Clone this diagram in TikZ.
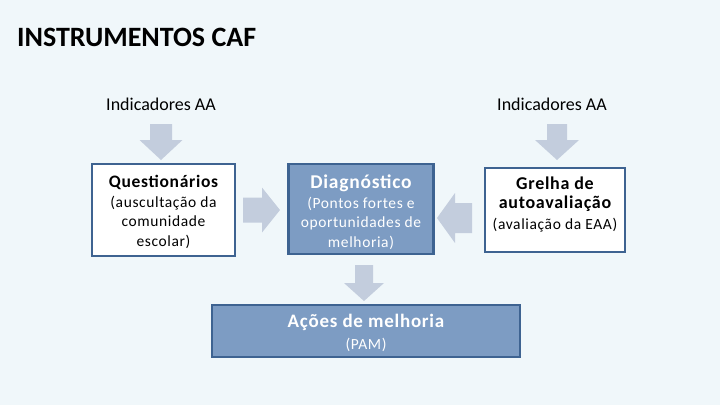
\documentclass[tikz,border=0pt]{standalone}
\usepackage{fontspec}
\setmainfont{Carlito}
\definecolor{bgc}{HTML}{F0F7FA}
\definecolor{arrc}{HTML}{C3CDDD}
\definecolor{boxfill}{HTML}{7D9CC3}
\definecolor{boxline}{HTML}{3E6391}
\newcommand{\sub}{\fontsize{15.5}{19.5}\selectfont\addfontfeatures{LetterSpace=4}}
% down arrow: cx, top, head start, tip, shaft half, head half
\newcommand{\darrow}[6]{\fill[arrc] (#1-#5,#2) -- (#1+#5,#2) -- (#1+#5,#3) -- (#1+#6,#3) -- (#1,#4) -- (#1-#6,#3) -- (#1-#5,#3) -- cycle;}
% horizontal arrow: cy, tail x, head start x, tip x, shaft half, head half
\newcommand{\harrow}[6]{\fill[arrc] (#2,#1-#5) -- (#3,#1-#5) -- (#3,#1-#6) -- (#4,#1) -- (#3,#1+#6) -- (#3,#1+#5) -- (#2,#1+#5) -- cycle;}
\begin{document}
\begin{tikzpicture}[x=1pt,y=-1pt,
  whitebox/.style={draw=boxline,line width=2.5pt,fill=white,inner sep=0pt},
  bluebox/.style={draw=boxline,line width=2.5pt,fill=boxfill,inner sep=0pt},
  txt/.style={align=center,inner sep=0pt},
  lbl/.style={font=\fontsize{18}{21}\selectfont,inner sep=0pt}
]
\useasboundingbox (0,0) rectangle (720,405);
\fill[bgc] (0,0) rectangle (720,405);
\node[anchor=west,font=\fontsize{28}{32}\selectfont\bfseries,inner sep=0pt] (title) at (17,37) {INSTRUMENTOS CAF};
\node[lbl] (ind1) at (161,104) {Indicadores AA};
\node[lbl] (ind2) at (552,104) {Indicadores AA};

\node[whitebox,minimum width=143pt,minimum height=92pt] (q) at (163.5,210) {};
\node[txt,font=\sub] (qt) at (163.5,212)
  {{\fontsize{17.5}{19.5}\selectfont\bfseries Questionários}\\(auscultação da\\comunidade\\escolar)};

\node[bluebox,minimum width=145pt,minimum height=90pt] (d) at (361,209) {};
\node[txt,font=\sub,text=white] (dt) at (361,212)
  {{\fontsize{19.5}{20}\selectfont\bfseries Diagnóstico}\\(Pontos fortes e\\oportunidades de\\melhoria)};

\node[whitebox,minimum width=140pt,minimum height=84pt] (g) at (555,210) {};
\node[txt,font=\sub] (gt) at (555,204)
  {{\fontsize{18}{21}\selectfont\bfseries Grelha de}\\{\fontsize{18}{21}\selectfont\bfseries autoavaliação}\\[1pt](avaliação da EAA)};

\node[bluebox,minimum width=308pt,minimum height=52pt] (a) at (366,331) {};
\node[txt,font=\sub,text=white] (at) at (366,333)
  {{\fontsize{19}{22}\selectfont\bfseries Ações de melhoria}\\[2pt](PAM)};

\darrow{161}{124}{140}{160}{11}{21.5}
\darrow{557}{124}{140}{160}{10}{22}
\harrow{210}{243}{262}{280}{12.5}{22.5}
\harrow{218}{472}{455}{437}{15}{25}
\darrow{364}{265}{283}{301}{9}{20}
\end{tikzpicture}
\end{document}
